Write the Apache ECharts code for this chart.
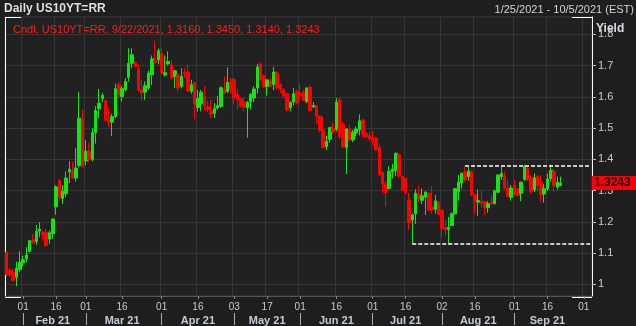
<!DOCTYPE html>
<html><head><meta charset="utf-8">
<script src="https://cdn.jsdelivr.net/npm/echarts@6/dist/echarts.min.js"></script>
<style>html,body{margin:0;padding:0;background:#1e1e1e;overflow:hidden}#c{width:636px;height:326px}</style>
</head><body><div id="c"></div>
<script>
// ---- data ----
const holidays = ['2021-02-15','2021-05-31','2021-07-05','2021-09-06'];
const dayTickDates = ['2021-02-01','2021-02-16','2021-03-01','2021-03-16','2021-04-01','2021-04-16','2021-05-03','2021-05-17','2021-06-01','2021-06-16','2021-07-01','2021-07-16','2021-08-02','2021-08-16','2021-09-01','2021-09-16','2021-10-01'];
const monthKeys = ['2021-02','2021-03','2021-04','2021-05','2021-06','2021-07','2021-08','2021-09'];
const monthLabels = ['Feb 21','Mar 21','Apr 21','May 21','Jun 21','Jul 21','Aug 21','Sep 21'];
const yTicks = [1,1.1,1.2,1.3,1.4,1.5,1.6,1.7,1.8];

const openV = [1.103,1.045,1.039,1.023,1.048,1.069,1.082,1.105,1.143,1.137,1.171,1.166,1.167,1.145,1.163,1.248,1.333,1.275,1.290,1.360,1.363,1.340,1.380,1.530,1.395,1.425,1.400,1.485,1.562,1.594,1.587,1.524,1.519,1.537,
1.638,1.601,1.622,1.662,1.707,1.709,1.686,1.622,1.615,1.628,1.670,1.716,1.718,1.739,1.670,1.705,1.702,1.665,1.670,1.633,1.678,1.679,1.617,1.646,1.566,1.578,1.600,1.568,1.555,1.547,1.564,1.569,1.623,1.617,
1.646,1.655,1.607,1.593,1.583,1.565,1.584,1.596,1.628,1.705,1.668,1.633,1.651,1.639,1.676,1.639,1.623,1.610,1.565,1.583,1.617,1.612,1.615,1.584,1.631,1.567,1.572,1.538,1.494,1.441,1.464,1.499,1.496,1.590,
1.513,1.438,1.497,1.462,1.484,1.494,1.526,1.483,1.476,1.470,1.468,1.438,1.359,1.322,1.307,1.360,1.364,1.415,1.346,1.339,1.269,1.206,1.226,1.288,1.269,1.279,1.292,1.248,1.240,1.263,1.238,1.182,1.176,1.188,
1.226,1.297,1.324,1.360,1.345,1.360,1.287,1.263,1.266,1.264,1.245,1.264,1.258,1.295,1.345,1.347,1.308,1.279,1.318,1.305,1.292,1.336,1.371,1.341,1.303,1.345,1.327,1.289,1.306,1.339,1.362,1.311,1.316];
const closeV = [1.031,1.031,1.013,1.052,1.071,1.079,1.094,1.140,1.133,1.170,1.177,1.159,1.124,1.165,1.209,1.312,1.280,1.298,1.340,1.368,1.340,1.372,1.531,1.377,1.426,1.400,1.485,1.556,1.579,1.604,1.525,1.519,1.536,1.626,
1.606,1.626,1.649,1.707,1.734,1.697,1.622,1.614,1.635,1.676,1.721,1.710,1.747,1.676,1.677,1.713,1.660,1.683,1.628,1.665,1.672,1.619,1.638,1.576,1.594,1.614,1.571,1.559,1.545,1.562,1.572,1.629,1.610,1.646,
1.623,1.596,1.589,1.570,1.567,1.583,1.607,1.625,1.695,1.654,1.633,1.654,1.633,1.679,1.628,1.623,1.602,1.559,1.583,1.610,1.580,1.604,1.588,1.628,1.556,1.572,1.538,1.493,1.438,1.457,1.501,1.487,1.583,1.473,
1.441,1.497,1.462,1.487,1.497,1.523,1.480,1.472,1.466,1.459,1.431,1.351,1.322,1.293,1.362,1.369,1.419,1.346,1.301,1.293,1.198,1.222,1.292,1.274,1.283,1.295,1.237,1.238,1.267,1.224,1.179,1.174,1.182,1.226,
1.306,1.327,1.355,1.334,1.362,1.287,1.269,1.268,1.259,1.245,1.258,1.258,1.299,1.350,1.355,1.308,1.282,1.308,1.289,1.285,1.327,1.377,1.334,1.297,1.341,1.316,1.287,1.306,1.337,1.365,1.315,1.327,1.3243];
const lowV = [1.027,1.023,1.009,0.994,1.039,1.058,1.071,1.103,1.130,1.127,1.151,1.140,1.122,1.130,1.147,1.223,1.268,1.257,1.280,1.324,1.339,1.329,1.374,1.374,1.381,1.390,1.394,1.450,1.532,1.583,1.522,1.503,1.474,1.532,
1.596,1.585,1.617,1.649,1.691,1.694,1.617,1.587,1.590,1.622,1.638,1.707,1.704,1.672,1.665,1.700,1.654,1.628,1.617,1.626,1.660,1.615,1.609,1.527,1.553,1.553,1.555,1.551,1.532,1.532,1.559,1.566,1.609,1.612,
1.612,1.576,1.559,1.565,1.554,1.469,1.559,1.583,1.610,1.652,1.628,1.604,1.631,1.621,1.623,1.612,1.596,1.552,1.554,1.572,1.575,1.596,1.586,1.580,1.554,1.565,1.515,1.485,1.434,1.429,1.453,1.480,1.490,1.465,
1.436,1.353,1.457,1.455,1.473,1.476,1.468,1.468,1.457,1.447,1.425,1.346,1.293,1.248,1.304,1.339,1.346,1.341,1.298,1.288,1.174,1.129,1.193,1.261,1.256,1.222,1.235,1.226,1.226,1.222,1.150,1.156,1.127,1.187,
1.224,1.268,1.306,1.329,1.331,1.282,1.224,1.219,1.245,1.222,1.229,1.253,1.256,1.292,1.334,1.303,1.279,1.268,1.282,1.282,1.266,1.331,1.329,1.289,1.295,1.299,1.264,1.261,1.299,1.329,1.297,1.303,1.314];
const highV = [1.105,1.052,1.050,1.073,1.106,1.092,1.119,1.141,1.161,1.190,1.199,1.173,1.178,1.172,1.212,1.317,1.337,1.317,1.361,1.394,1.392,1.436,1.615,1.559,1.461,1.454,1.499,1.570,1.625,1.613,1.591,1.567,1.545,1.642,
1.646,1.633,1.660,1.755,1.755,1.713,1.704,1.654,1.649,1.683,1.732,1.779,1.755,1.755,1.732,1.745,1.718,1.686,1.672,1.691,1.691,1.704,1.654,1.646,1.622,1.622,1.635,1.587,1.590,1.580,1.603,1.633,1.665,1.694,
1.660,1.660,1.625,1.596,1.596,1.586,1.612,1.633,1.705,1.710,1.670,1.655,1.660,1.695,1.681,1.644,1.628,1.612,1.583,1.628,1.623,1.641,1.623,1.631,1.635,1.583,1.575,1.540,1.536,1.475,1.504,1.517,1.596,1.596,
1.523,1.499,1.510,1.494,1.505,1.544,1.529,1.489,1.489,1.491,1.470,1.449,1.362,1.332,1.378,1.385,1.422,1.417,1.348,1.339,1.293,1.226,1.304,1.317,1.307,1.298,1.293,1.314,1.286,1.267,1.240,1.205,1.216,1.230,
1.308,1.350,1.358,1.376,1.376,1.365,1.289,1.303,1.303,1.268,1.266,1.285,1.303,1.352,1.376,1.360,1.334,1.318,1.334,1.308,1.329,1.383,1.379,1.350,1.355,1.350,1.350,1.320,1.355,1.383,1.371,1.345,1.345];

const resistance = {from:'2021-08-11', value:1.379};
const support = {from:'2021-07-20', value:1.129};

// ---- build ----
const dates = [];
for (let t = Date.UTC(2021,0,25); t <= Date.UTC(2021,9,5); t += 86400000) {
  const d = new Date(t), wd = d.getUTCDay(), s = d.toISOString().slice(0,10);
  if (wd === 0 || wd === 6 || holidays.includes(s)) continue;
  dates.push(s);
}
const candles = openV.map((o,i) => [o, closeV[i], lowV[i], highV[i]]);
const daySet = new Set(dayTickDates);
const monthStart = new Set(), monthMid = {};
monthKeys.forEach((k,j) => {
  const idx = dates.map((d,i)=>d.startsWith(k)?i:-1).filter(i=>i>=0);
  monthStart.add(idx[0]);
  monthMid[Math.round((idx[0]+idx[idx.length-1])/2)] = monthLabels[j];
});
const last = candles.length - 1;
const fmt = v => v.toFixed(4);
const legendText = 'Cndl, US10YT=RR, ' + (() => { const p = dates[last].split('-'); return (+p[1])+'/'+(+p[2])+'/'+p[0]; })() + ', ' +
  fmt(openV[last]) + ', ' + fmt(highV[last]) + ', ' + fmt(lowV[last]) + ', ' + fmt(closeV[last]);

const G = {l:5, t:17, r:44, b:29};
const W = 636, H = 326;
const gx0 = G.l, gx1 = W - G.r, gy0 = G.t, gy1 = H - G.b;
const lbl = '#c5ccd6';
const font = '"Liberation Sans", Arial, sans-serif';

const chart = echarts.init(document.getElementById('c'), null, {renderer:'canvas'});
const up = '#12e612', down = '#ff0000';
chart.setOption({
  animation:false,
  backgroundColor:'#1e1e1e',
  textStyle:{fontFamily:font},
  grid:{left:G.l, top:G.t, right:G.r, bottom:G.b, show:true, backgroundColor:'#212121', borderColor:'#3c3c3c', borderWidth:1},
  xAxis:[{
    type:'category', data:dates, boundaryGap:true, position:'bottom',
    axisLine:{show:true, lineStyle:{color:'#555'}},
    axisTick:{show:true, length:3, alignWithLabel:true, interval:(i,v)=>daySet.has(v), lineStyle:{color:'#888'}},
    axisLabel:{interval:(i,v)=>daySet.has(v), formatter:v=>v.slice(8), color:lbl, fontSize:10, margin:6, fontFamily:font},
    splitLine:{show:true, interval:(i,v)=>daySet.has(v), lineStyle:{color:'#363636'}}
  },{
    type:'category', data:dates, boundaryGap:true, position:'bottom', offset:17,
    axisLine:{show:false},
    axisTick:{show:true, length:12, alignWithLabel:true, interval:(i)=>monthStart.has(i), lineStyle:{color:'#aaa'}},
    axisLabel:{interval:(i)=>monthMid[i]!==undefined, formatter:(v,i)=>monthMid[i]||'', color:lbl, fontSize:11, fontWeight:'bold', margin:2, fontFamily:font},
    splitLine:{show:false}
  }],
  yAxis:[{
    type:'value', position:'right', min:0.963, max:1.855,
    axisLine:{show:true, lineStyle:{color:'#ffffff'}},
    axisTick:{show:true, length:4, customValues:yTicks, lineStyle:{color:'#bbb'}},
    axisLabel:{customValues:yTicks, color:lbl, fontSize:11, margin:6, fontFamily:font, formatter:v=>Math.abs(v-1)<1e-9?'1':v.toFixed(1)},
    splitLine:{show:true, lineStyle:{color:'#363636'}}
  }],
  series:[{
    type:'candlestick', data:candles, barWidth:3,
    itemStyle:{color:up, color0:down, borderColor:up, borderColor0:down, borderWidth:1},
    markLine:{
      silent:true, symbol:['none','none'], label:{show:false}, animation:false,
      lineStyle:{color:'#ffffff', type:[4,2], width:1.5},
      data:[
        [{coord:[resistance.from, resistance.value]},{coord:[dates[dates.length-1], resistance.value]}],
        [{coord:[support.from, support.value]},{coord:[dates[dates.length-1], support.value]}]
      ]
    }
  }]
});

const py = chart.convertToPixel({yAxisIndex:0}, closeV[last]);
const cw = 16;
chart.setOption({graphic:[
  {type:'text', left:4, top:3, style:{text:'Daily US10YT=RR', fill:'#dedede', font:'bold 12px '+font}},
  {type:'text', right:2, top:4, style:{text:'1/25/2021 - 10/5/2021 (EST)', fill:'#d4d4d4', font:'11px '+font}},
  {type:'text', left:13, top:24, style:{text:legendText, fill:'#ff1c1c', font:'11px '+font}},
  {type:'text', left:596, top:23, style:{text:'Yield', fill:'#d8dde4', font:'bold 12px '+font}},
  {type:'line', shape:{x1:gx0+0.5, y1:gy0, x2:gx0+0.5, y2:gy1}, style:{stroke:'#fff', lineWidth:1}},
  {type:'polyline', shape:{points:[[gx0,gy0+0.5],[gx0+cw,gy0+0.5]]}, style:{stroke:'#fff', lineWidth:1}},
  {type:'polyline', shape:{points:[[gx1-cw-4,gy0+0.5],[gx1,gy0+0.5]]}, style:{stroke:'#fff', lineWidth:1}},
  {type:'polyline', shape:{points:[[gx0,gy1+0.5],[gx0+cw,gy1+0.5]]}, style:{stroke:'#fff', lineWidth:1}},
  {type:'polyline', shape:{points:[[gx1-cw-4,gy1+0.5],[gx1,gy1+0.5]]}, style:{stroke:'#fff', lineWidth:1}},
  {type:'rect', shape:{x:gx1, y:Math.round(py)-7, width:W-gx1, height:14}, style:{fill:'#ff0000'}, z:100},
  {type:'text', x:gx1+2, y:Math.round(py), style:{text:fmt(closeV[last]), fill:'#000', font:'bold 12px '+font, verticalAlign:'middle'}, z:101}
]});
</script></body></html>
